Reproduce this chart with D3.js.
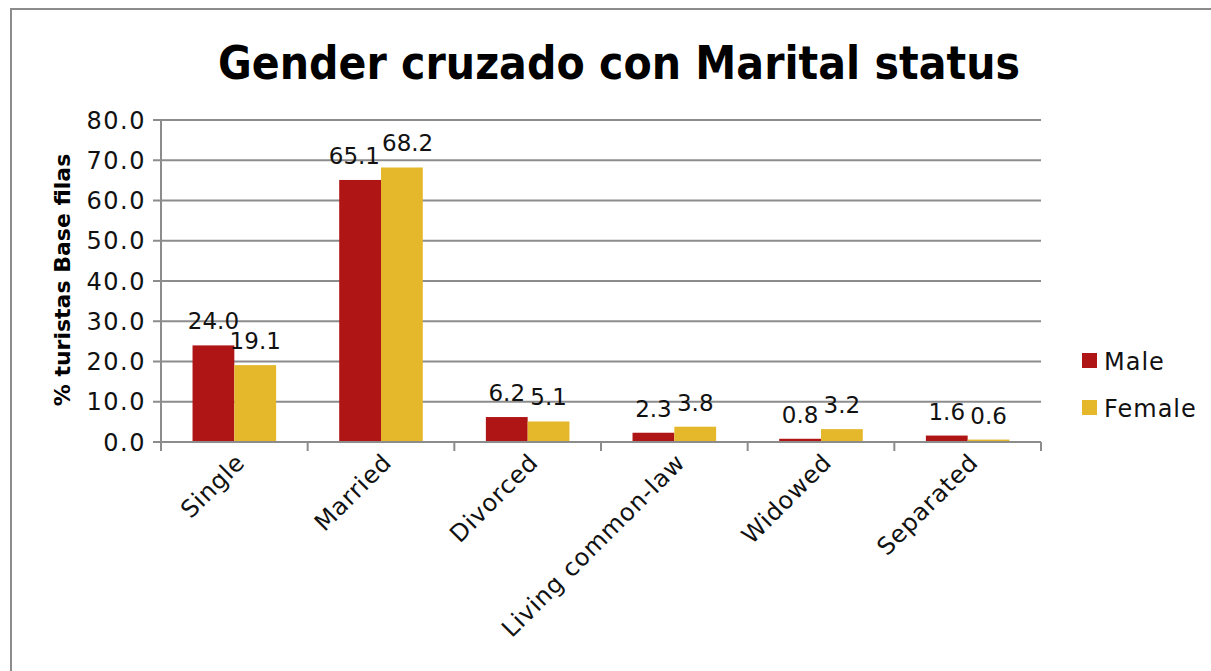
<!DOCTYPE html>
<html>
<head>
<meta charset="utf-8">
<script src="https://cdn.jsdelivr.net/npm/d3@7"></script>
<style>
  body { margin: 0; background: #fff; }
  svg text { font-family: "DejaVu Sans", sans-serif; }
</style>
</head>
<body>
<svg id="chart" width="1211" height="671"></svg>
<script>
const categories = ["Single", "Married", "Divorced", "Living common-law", "Widowed", "Separated"];
const seriesNames = ["Male", "Female"];
const maleValues = [24.0, 65.1, 6.2, 2.3, 0.8, 1.6];
const femaleValues = [19.1, 68.2, 5.1, 3.8, 3.2, 0.6];
const yTicks = [0, 10, 20, 30, 40, 50, 60, 70, 80];
const colors = ["#B01516", "#E5B82C"];

const series = [maleValues, femaleValues];
const svg = d3.select("#chart");

// outer frame
svg.append("path")
  .attr("d", "M11,671 V9 H1211")
  .attr("fill", "none")
  .attr("stroke", "#8c8c8c")
  .attr("stroke-width", 2);

const margin = {top: 120, left: 161};
const width = 1041 - 161;
const height = 442 - 120;

const g = svg.append("g")
  .attr("transform", "translate(" + margin.left + "," + margin.top + ")");

const x = d3.scaleBand().domain(categories).range([0, width]).paddingInner(0.43).paddingOuter(0.215);
const x1 = d3.scaleBand().domain(seriesNames).range([0, x.bandwidth()]);
const y = d3.scaleLinear().domain([0, 80]).range([height, 0]);

// gridlines
g.selectAll("line.grid")
  .data(yTicks)
  .enter()
  .append("line")
  .attr("class", "grid")
  .attr("x1", -8)
  .attr("x2", width)
  .attr("y1", d => y(d))
  .attr("y2", d => y(d))
  .attr("stroke", "#8c8c8c")
  .attr("stroke-width", 2);

// y axis line
g.append("line")
  .attr("x1", 0).attr("x2", 0)
  .attr("y1", 0).attr("y2", height + 9)
  .attr("stroke", "#8c8c8c")
  .attr("stroke-width", 2);

// y tick labels
g.selectAll("text.ytick")
  .data(yTicks)
  .enter()
  .append("text")
  .attr("class", "ytick")
  .attr("x", -15)
  .attr("y", d => y(d))
  .attr("dy", "0.36em")
  .attr("text-anchor", "end")
  .attr("font-size", 24)
  .attr("letter-spacing", 1.5)
  .attr("fill", "#111")
  .text(d => d.toFixed(1));

// category ticks
const step = width / categories.length;
g.selectAll("line.xtick")
  .data(d3.range(categories.length + 1))
  .enter()
  .append("line")
  .attr("class", "xtick")
  .attr("x1", d => d * step)
  .attr("x2", d => d * step)
  .attr("y1", height)
  .attr("y2", height + 9)
  .attr("stroke", "#8c8c8c")
  .attr("stroke-width", 2);

// bars
const groups = g.selectAll("g.cat")
  .data(categories)
  .enter()
  .append("g")
  .attr("class", "cat")
  .attr("transform", d => "translate(" + x(d) + ",0)");

groups.selectAll("rect")
  .data((d, i) => seriesNames.map((s, j) => ({s: s, v: series[j][i], c: colors[j]})))
  .enter()
  .append("rect")
  .attr("x", d => x1(d.s))
  .attr("y", d => y(d.v))
  .attr("width", x1.bandwidth())
  .attr("height", d => height - y(d.v))
  .attr("fill", d => d.c);

// x axis baseline on top of bars
g.append("line")
  .attr("x1", -8).attr("x2", width)
  .attr("y1", height).attr("y2", height)
  .attr("stroke", "#8c8c8c")
  .attr("stroke-width", 2);

// value labels
groups.each(function(cat, i) {
  const grp = d3.select(this);
  const labels = seriesNames.map((s, j) => {
    const v = series[j][i];
    const t = grp.append("text")
      .attr("class", "val")
      .attr("x", x1(s) + x1.bandwidth() / 2)
      .attr("y", y(v) - 16)
      .attr("text-anchor", "middle")
      .attr("font-size", 23)
      .attr("fill", "#111")
      .text(v.toFixed(1));
    return {t: t, cx: x1(s) + x1.bandwidth() / 2, w: t.node().getComputedTextLength(), yy: y(v) - 16};
  });
  // nudge the pair apart if they collide, like the office chart does
  const a = labels[0], b = labels[1];
  const gap = (b.cx - b.w / 2) - (a.cx + a.w / 2);
  if (gap < 2 && Math.abs(a.yy - b.yy) < 18) {
    const push = (2 - gap) / 2;
    a.t.attr("x", a.cx - push);
    b.t.attr("x", b.cx + push);
  }
});

// category labels
g.selectAll("text.cat")
  .data(categories)
  .enter()
  .append("text")
  .attr("class", "cat")
  .attr("transform", d => "translate(" + (x(d) + x.bandwidth() / 2 + 12) + "," + (height + 22) + ") rotate(-45)")
  .attr("text-anchor", "end")
  .attr("font-size", 24)
  .attr("letter-spacing", 0.8)
  .attr("fill", "#111")
  .text(d => d);

// title
svg.append("text")
  .attr("x", 619)
  .attr("y", 79)
  .attr("text-anchor", "middle")
  .attr("font-family", "'Liberation Sans', Arial, sans-serif")
  .attr("font-size", 47)
  .attr("font-weight", "bold")
  .attr("textLength", 802)
  .attr("lengthAdjust", "spacingAndGlyphs")
  .attr("fill", "#000")
  .text("Gender cruzado con Marital status");

// y axis title
svg.append("text")
  .attr("transform", "translate(70,280) rotate(-90)")
  .attr("text-anchor", "middle")
  .attr("font-size", 22)
  .attr("font-weight", "bold")
  .attr("fill", "#000")
  .text("% turistas Base filas");

// legend
const legend = svg.selectAll("g.legend")
  .data(seriesNames)
  .enter()
  .append("g")
  .attr("class", "legend")
  .attr("transform", (d, i) => "translate(1082," + (353 + i * 47) + ")");

legend.append("rect")
  .attr("width", 15)
  .attr("height", 15)
  .attr("fill", (d, i) => colors[i]);

legend.append("text")
  .attr("x", 22)
  .attr("y", 8)
  .attr("dy", "0.36em")
  .attr("font-size", 24)
  .attr("letter-spacing", 1)
  .attr("fill", "#111")
  .text(d => d);
</script>
</body>
</html>
